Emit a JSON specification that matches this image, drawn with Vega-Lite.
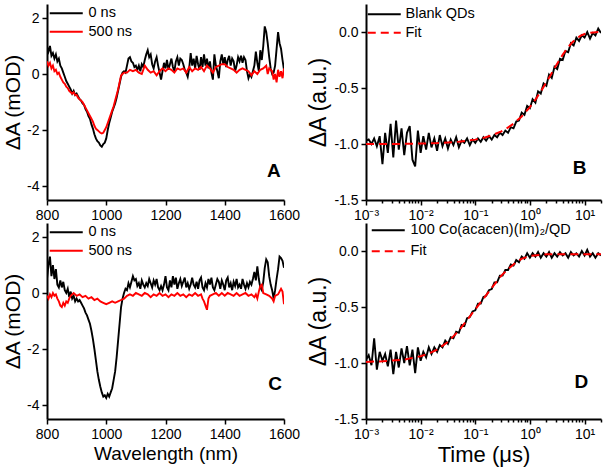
{
"$schema": "https://vega.github.io/schema/vega-lite/v6.json",
"background": "white",
"padding": {"left": 2, "top": 4, "right": 5, "bottom": 5},
"config": {
  "view": {"stroke": null},
  "font": "Liberation Sans",
  "axis": {"domainColor": "black", "domainWidth": 2, "tickColor": "black", "tickWidth": 1.5, "labelColor": "black", "labelFontSize": 14, "labelFont": "Liberation Sans", "titleFont": "Liberation Sans", "titleFontSize": 21, "titleFontWeight": "normal", "titleColor": "black", "grid": false, "labelFlush": false, "labelOverlap": false, "labelPadding": 3, "titlePadding": 3},
  "legend": {"orient": "none", "symbolType": "M-3,0H3", "symbolSize": 121, "symbolStrokeWidth": 2, "labelFontSize": 14.5, "labelFont": "Liberation Sans", "labelColor": "black", "labelOffset": 15, "labelLimit": 300, "rowPadding": 3.5, "padding": 0}
},
"datasets": {
"one": [{}],
"a0": [{"x":800,"y":0.97},{"x":805,"y":0.8},{"x":810,"y":1.0},{"x":815,"y":0.65},{"x":820,"y":0.75},{"x":825,"y":0.55},{"x":830,"y":0.7},{"x":835,"y":0.45},{"x":840,"y":0.55},{"x":845,"y":0.3},{"x":850,"y":0.2},{"x":855,"y":0.05},{"x":860,"y":-0.1},{"x":865,"y":-0.25},{"x":870,"y":-0.35},{"x":875,"y":-0.45},{"x":880,"y":-0.55},{"x":885,"y":-0.7},{"x":890,"y":-0.6},{"x":895,"y":-0.75},{"x":900,"y":-0.7},{"x":905,"y":-0.8},{"x":910,"y":-0.9},{"x":915,"y":-0.95},{"x":920,"y":-1.05},{"x":925,"y":-1.1},{"x":930,"y":-1.25},{"x":935,"y":-1.35},{"x":940,"y":-1.5},{"x":945,"y":-1.6},{"x":950,"y":-1.8},{"x":955,"y":-1.95},{"x":960,"y":-2.15},{"x":965,"y":-2.3},{"x":970,"y":-2.4},{"x":975,"y":-2.45},{"x":980,"y":-2.55},{"x":985,"y":-2.6},{"x":990,"y":-2.5},{"x":995,"y":-2.45},{"x":1000,"y":-2.3},{"x":1005,"y":-2.0},{"x":1010,"y":-1.75},{"x":1015,"y":-1.55},{"x":1020,"y":-1.35},{"x":1025,"y":-1.2},{"x":1030,"y":-1.05},{"x":1035,"y":-0.85},{"x":1040,"y":-0.6},{"x":1045,"y":-0.35},{"x":1050,"y":-0.1},{"x":1055,"y":0.05},{"x":1060,"y":0.1},{"x":1065,"y":0.05},{"x":1070,"y":0.3},{"x":1075,"y":0.55},{"x":1080,"y":0.6},{"x":1085,"y":0.45},{"x":1090,"y":0.4},{"x":1095,"y":0.25},{"x":1100,"y":0.3},{"x":1105,"y":0.15},{"x":1110,"y":0.3},{"x":1115,"y":0.1},{"x":1120,"y":0.35},{"x":1125,"y":0.25},{"x":1130,"y":0.5},{"x":1135,"y":0.7},{"x":1140,"y":0.85},{"x":1145,"y":0.6},{"x":1150,"y":0.7},{"x":1155,"y":0.35},{"x":1160,"y":0.2},{"x":1165,"y":0.45},{"x":1170,"y":0.6},{"x":1175,"y":0.3},{"x":1180,"y":0.05},{"x":1185,"y":-0.2},{"x":1190,"y":0.1},{"x":1195,"y":0.4},{"x":1200,"y":0.2},{"x":1205,"y":0.5},{"x":1210,"y":0.15},{"x":1215,"y":0.35},{"x":1220,"y":0.55},{"x":1225,"y":0.25},{"x":1230,"y":0.1},{"x":1235,"y":0.45},{"x":1240,"y":0.6},{"x":1245,"y":0.3},{"x":1250,"y":0.55},{"x":1255,"y":0.5},{"x":1260,"y":0.35},{"x":1265,"y":0.15},{"x":1270,"y":0.05},{"x":1275,"y":-0.1},{"x":1280,"y":0.2},{"x":1285,"y":0.75},{"x":1290,"y":0.3},{"x":1295,"y":0.55},{"x":1300,"y":0.2},{"x":1305,"y":0.65},{"x":1310,"y":0.35},{"x":1315,"y":0.15},{"x":1320,"y":0.6},{"x":1325,"y":0.25},{"x":1330,"y":0.7},{"x":1335,"y":0.3},{"x":1340,"y":0.55},{"x":1345,"y":0.2},{"x":1350,"y":0.45},{"x":1355,"y":0.05},{"x":1360,"y":-0.2},{"x":1365,"y":0.7},{"x":1370,"y":0.3},{"x":1375,"y":0.1},{"x":1380,"y":-0.15},{"x":1385,"y":0.45},{"x":1390,"y":0.7},{"x":1395,"y":0.35},{"x":1400,"y":0.6},{"x":1405,"y":0.25},{"x":1410,"y":0.5},{"x":1415,"y":0.65},{"x":1420,"y":0.3},{"x":1425,"y":0.55},{"x":1430,"y":0.45},{"x":1435,"y":0.1},{"x":1440,"y":0.3},{"x":1445,"y":0.6},{"x":1450,"y":0.45},{"x":1455,"y":0.65},{"x":1460,"y":0.4},{"x":1465,"y":0.6},{"x":1470,"y":0.5},{"x":1475,"y":0.1},{"x":1480,"y":-0.15},{"x":1485,"y":0.0},{"x":1490,"y":-0.1},{"x":1495,"y":0.1},{"x":1500,"y":0.3},{"x":1505,"y":0.8},{"x":1510,"y":0.4},{"x":1515,"y":0.1},{"x":1520,"y":0.85},{"x":1525,"y":0.5},{"x":1530,"y":1.0},{"x":1535,"y":1.7},{"x":1540,"y":1.5},{"x":1545,"y":1.1},{"x":1550,"y":0.6},{"x":1555,"y":0.2},{"x":1560,"y":0.0},{"x":1565,"y":0.05},{"x":1570,"y":0.3},{"x":1575,"y":0.9},{"x":1580,"y":1.5},{"x":1585,"y":1.1},{"x":1590,"y":0.9},{"x":1595,"y":0.5},{"x":1600,"y":0.15}],
"a5": [{"x":800,"y":0.45},{"x":805,"y":0.3},{"x":810,"y":0.4},{"x":815,"y":0.2},{"x":820,"y":0.3},{"x":825,"y":0.1},{"x":830,"y":0.15},{"x":835,"y":0.0},{"x":840,"y":0.05},{"x":845,"y":-0.1},{"x":850,"y":-0.2},{"x":855,"y":-0.3},{"x":860,"y":-0.35},{"x":865,"y":-0.45},{"x":870,"y":-0.5},{"x":875,"y":-0.6},{"x":880,"y":-0.65},{"x":885,"y":-0.7},{"x":890,"y":-0.65},{"x":895,"y":-0.75},{"x":900,"y":-0.75},{"x":905,"y":-0.85},{"x":910,"y":-0.9},{"x":915,"y":-0.95},{"x":920,"y":-1.0},{"x":925,"y":-1.1},{"x":930,"y":-1.2},{"x":935,"y":-1.3},{"x":940,"y":-1.4},{"x":945,"y":-1.5},{"x":950,"y":-1.6},{"x":955,"y":-1.7},{"x":960,"y":-1.85},{"x":965,"y":-1.95},{"x":970,"y":-2.0},{"x":975,"y":-2.05},{"x":980,"y":-2.1},{"x":985,"y":-2.12},{"x":990,"y":-2.1},{"x":995,"y":-2.0},{"x":1000,"y":-1.9},{"x":1005,"y":-1.75},{"x":1010,"y":-1.6},{"x":1015,"y":-1.45},{"x":1020,"y":-1.3},{"x":1025,"y":-1.15},{"x":1030,"y":-0.95},{"x":1035,"y":-0.75},{"x":1040,"y":-0.55},{"x":1045,"y":-0.3},{"x":1050,"y":-0.05},{"x":1055,"y":0.0},{"x":1060,"y":0.05},{"x":1070,"y":0.05},{"x":1080,"y":0.15},{"x":1090,"y":0.1},{"x":1100,"y":0.15},{"x":1110,"y":0.05},{"x":1120,"y":0.0},{"x":1130,"y":0.3},{"x":1140,"y":0.15},{"x":1150,"y":0.05},{"x":1160,"y":0.1},{"x":1170,"y":-0.05},{"x":1180,"y":0.1},{"x":1190,"y":0.2},{"x":1200,"y":0.1},{"x":1210,"y":0.2},{"x":1220,"y":0.15},{"x":1230,"y":0.05},{"x":1240,"y":0.2},{"x":1250,"y":0.15},{"x":1260,"y":0.2},{"x":1270,"y":0.05},{"x":1280,"y":0.25},{"x":1290,"y":0.1},{"x":1300,"y":0.2},{"x":1310,"y":0.15},{"x":1320,"y":0.25},{"x":1330,"y":0.1},{"x":1340,"y":0.3},{"x":1350,"y":0.2},{"x":1360,"y":0.05},{"x":1370,"y":0.25},{"x":1380,"y":0.3},{"x":1390,"y":0.35},{"x":1400,"y":0.35},{"x":1410,"y":0.25},{"x":1420,"y":0.2},{"x":1430,"y":0.15},{"x":1440,"y":0.05},{"x":1450,"y":0.15},{"x":1460,"y":0.2},{"x":1470,"y":0.15},{"x":1480,"y":0.1},{"x":1490,"y":-0.05},{"x":1500,"y":0.1},{"x":1510,"y":0.0},{"x":1520,"y":0.15},{"x":1530,"y":0.2},{"x":1540,"y":0.3},{"x":1545,"y":0.0},{"x":1550,"y":0.2},{"x":1560,"y":0.1},{"x":1565,"y":-0.2},{"x":1570,"y":0.0},{"x":1575,"y":-0.3},{"x":1580,"y":0.15},{"x":1585,"y":-0.1},{"x":1590,"y":0.1},{"x":1595,"y":-0.15},{"x":1600,"y":0.2}],
"c0": [{"x":800,"y":0.5},{"x":805,"y":1.0},{"x":810,"y":1.3},{"x":815,"y":0.6},{"x":820,"y":1.0},{"x":825,"y":0.5},{"x":830,"y":0.85},{"x":835,"y":0.3},{"x":840,"y":0.2},{"x":845,"y":0.45},{"x":850,"y":0.2},{"x":855,"y":0.4},{"x":860,"y":0.1},{"x":865,"y":0.0},{"x":870,"y":0.15},{"x":875,"y":-0.15},{"x":880,"y":0.05},{"x":885,"y":-0.2},{"x":890,"y":-0.1},{"x":895,"y":-0.3},{"x":900,"y":-0.2},{"x":905,"y":-0.3},{"x":910,"y":-0.25},{"x":915,"y":-0.35},{"x":920,"y":-0.45},{"x":925,"y":-0.55},{"x":930,"y":-0.7},{"x":935,"y":-0.8},{"x":940,"y":-0.95},{"x":945,"y":-1.1},{"x":950,"y":-1.35},{"x":955,"y":-1.65},{"x":960,"y":-2.0},{"x":965,"y":-2.4},{"x":970,"y":-2.8},{"x":975,"y":-3.1},{"x":980,"y":-3.35},{"x":985,"y":-3.55},{"x":990,"y":-3.7},{"x":995,"y":-3.65},{"x":1000,"y":-3.75},{"x":1005,"y":-3.6},{"x":1010,"y":-3.7},{"x":1015,"y":-3.55},{"x":1020,"y":-3.4},{"x":1025,"y":-3.1},{"x":1030,"y":-2.8},{"x":1035,"y":-2.3},{"x":1040,"y":-1.7},{"x":1045,"y":-1.1},{"x":1050,"y":-0.5},{"x":1055,"y":-0.2},{"x":1060,"y":0.0},{"x":1065,"y":0.15},{"x":1070,"y":0.1},{"x":1075,"y":0.35},{"x":1080,"y":0.2},{"x":1085,"y":0.4},{"x":1090,"y":0.6},{"x":1095,"y":0.45},{"x":1100,"y":0.5},{"x":1105,"y":0.25},{"x":1110,"y":0.35},{"x":1115,"y":0.15},{"x":1120,"y":0.45},{"x":1125,"y":0.3},{"x":1130,"y":0.2},{"x":1135,"y":0.35},{"x":1140,"y":0.25},{"x":1145,"y":0.5},{"x":1150,"y":0.35},{"x":1155,"y":0.2},{"x":1160,"y":0.45},{"x":1165,"y":0.3},{"x":1170,"y":0.5},{"x":1175,"y":0.2},{"x":1180,"y":0.1},{"x":1185,"y":0.25},{"x":1190,"y":0.1},{"x":1195,"y":0.3},{"x":1200,"y":0.6},{"x":1205,"y":0.2},{"x":1210,"y":0.1},{"x":1215,"y":0.45},{"x":1220,"y":0.2},{"x":1225,"y":0.6},{"x":1230,"y":0.3},{"x":1235,"y":0.55},{"x":1240,"y":0.15},{"x":1245,"y":0.35},{"x":1250,"y":0.5},{"x":1255,"y":0.25},{"x":1260,"y":0.4},{"x":1265,"y":0.55},{"x":1270,"y":0.2},{"x":1275,"y":0.35},{"x":1280,"y":0.15},{"x":1285,"y":0.3},{"x":1290,"y":0.55},{"x":1295,"y":0.3},{"x":1300,"y":0.2},{"x":1305,"y":0.4},{"x":1310,"y":0.15},{"x":1315,"y":0.45},{"x":1320,"y":0.55},{"x":1325,"y":0.2},{"x":1330,"y":0.1},{"x":1335,"y":0.35},{"x":1340,"y":0.2},{"x":1345,"y":0.5},{"x":1350,"y":0.3},{"x":1355,"y":0.55},{"x":1360,"y":0.2},{"x":1365,"y":0.1},{"x":1370,"y":0.3},{"x":1375,"y":0.5},{"x":1380,"y":0.4},{"x":1385,"y":0.15},{"x":1390,"y":0.45},{"x":1395,"y":0.3},{"x":1400,"y":0.1},{"x":1405,"y":0.45},{"x":1410,"y":0.55},{"x":1415,"y":0.2},{"x":1420,"y":0.35},{"x":1425,"y":0.1},{"x":1430,"y":0.4},{"x":1435,"y":0.25},{"x":1440,"y":0.5},{"x":1445,"y":0.2},{"x":1450,"y":0.3},{"x":1455,"y":0.15},{"x":1460,"y":0.5},{"x":1465,"y":0.3},{"x":1470,"y":0.15},{"x":1475,"y":0.35},{"x":1480,"y":0.2},{"x":1485,"y":0.4},{"x":1490,"y":0.3},{"x":1495,"y":0.5},{"x":1500,"y":0.75},{"x":1505,"y":0.45},{"x":1510,"y":0.95},{"x":1515,"y":0.5},{"x":1520,"y":0.2},{"x":1525,"y":0.1},{"x":1530,"y":0.4},{"x":1535,"y":0.9},{"x":1540,"y":1.2},{"x":1545,"y":1.1},{"x":1550,"y":0.6},{"x":1555,"y":0.3},{"x":1560,"y":0.1},{"x":1565,"y":-0.2},{"x":1570,"y":0.1},{"x":1575,"y":0.5},{"x":1580,"y":0.85},{"x":1585,"y":1.3},{"x":1590,"y":1.25},{"x":1595,"y":1.15},{"x":1600,"y":0.9}],
"c5": [{"x":800,"y":-0.1},{"x":805,"y":-0.2},{"x":810,"y":-0.05},{"x":815,"y":-0.15},{"x":820,"y":0.0},{"x":825,"y":-0.1},{"x":830,"y":-0.05},{"x":835,"y":-0.2},{"x":840,"y":-0.3},{"x":845,"y":-0.45},{"x":850,"y":-0.5},{"x":855,"y":-0.35},{"x":860,"y":-0.45},{"x":865,"y":-0.3},{"x":870,"y":-0.35},{"x":875,"y":-0.2},{"x":880,"y":-0.1},{"x":885,"y":-0.05},{"x":890,"y":0.0},{"x":895,"y":-0.05},{"x":900,"y":-0.1},{"x":910,"y":-0.05},{"x":920,"y":-0.15},{"x":930,"y":-0.1},{"x":940,"y":-0.2},{"x":950,"y":-0.15},{"x":960,"y":-0.25},{"x":970,"y":-0.2},{"x":980,"y":-0.3},{"x":990,"y":-0.35},{"x":1000,"y":-0.4},{"x":1010,"y":-0.35},{"x":1020,"y":-0.3},{"x":1030,"y":-0.35},{"x":1040,"y":-0.3},{"x":1050,"y":-0.25},{"x":1060,"y":-0.2},{"x":1070,"y":-0.1},{"x":1080,"y":-0.05},{"x":1090,"y":-0.1},{"x":1100,"y":0.0},{"x":1110,"y":-0.05},{"x":1120,"y":-0.1},{"x":1130,"y":0.0},{"x":1140,"y":-0.05},{"x":1150,"y":-0.15},{"x":1160,"y":-0.05},{"x":1170,"y":-0.1},{"x":1180,"y":0.0},{"x":1190,"y":-0.1},{"x":1200,"y":-0.05},{"x":1210,"y":-0.15},{"x":1220,"y":-0.05},{"x":1230,"y":-0.1},{"x":1240,"y":0.0},{"x":1250,"y":-0.1},{"x":1260,"y":-0.05},{"x":1270,"y":-0.15},{"x":1280,"y":-0.05},{"x":1290,"y":-0.1},{"x":1300,"y":0.0},{"x":1310,"y":-0.1},{"x":1320,"y":-0.05},{"x":1325,"y":-0.2},{"x":1330,"y":-0.3},{"x":1335,"y":-0.45},{"x":1340,"y":-0.6},{"x":1345,"y":-0.2},{"x":1350,"y":-0.1},{"x":1360,"y":-0.05},{"x":1370,"y":0.0},{"x":1380,"y":-0.1},{"x":1390,"y":0.0},{"x":1400,"y":-0.1},{"x":1410,"y":0.0},{"x":1420,"y":-0.05},{"x":1430,"y":-0.1},{"x":1440,"y":0.0},{"x":1450,"y":-0.1},{"x":1460,"y":-0.05},{"x":1470,"y":0.0},{"x":1480,"y":-0.1},{"x":1490,"y":-0.05},{"x":1500,"y":-0.15},{"x":1505,"y":-0.05},{"x":1510,"y":-0.2},{"x":1515,"y":0.05},{"x":1520,"y":0.25},{"x":1525,"y":0.3},{"x":1530,"y":0.0},{"x":1540,"y":-0.05},{"x":1550,"y":-0.1},{"x":1560,"y":-0.2},{"x":1565,"y":-0.3},{"x":1570,"y":-0.1},{"x":1580,"y":-0.05},{"x":1590,"y":0.15},{"x":1595,"y":0.05},{"x":1600,"y":-0.4}],
"bd": [{"x":0.001,"y":-0.97},{"x":0.00112,"y":-0.96},{"x":0.00126,"y":-1.0},{"x":0.00141,"y":-0.95},{"x":0.00158,"y":-1.02},{"x":0.00178,"y":-0.93},{"x":0.002,"y":-1.18},{"x":0.00224,"y":-0.9},{"x":0.00251,"y":-1.08},{"x":0.00282,"y":-0.82},{"x":0.00316,"y":-1.12},{"x":0.00355,"y":-0.79},{"x":0.00398,"y":-1.05},{"x":0.00447,"y":-0.86},{"x":0.00501,"y":-1.1},{"x":0.00562,"y":-0.9},{"x":0.00631,"y":-0.84},{"x":0.00708,"y":-1.14},{"x":0.00794,"y":-1.2},{"x":0.00891,"y":-0.88},{"x":0.01,"y":-1.08},{"x":0.0112,"y":-0.93},{"x":0.0126,"y":-1.05},{"x":0.0141,"y":-0.9},{"x":0.0158,"y":-1.03},{"x":0.0178,"y":-0.95},{"x":0.02,"y":-1.06},{"x":0.0224,"y":-0.92},{"x":0.0251,"y":-1.02},{"x":0.0282,"y":-0.95},{"x":0.0316,"y":-1.04},{"x":0.0355,"y":-0.96},{"x":0.0398,"y":-1.01},{"x":0.0447,"y":-0.94},{"x":0.0501,"y":-1.03},{"x":0.0562,"y":-0.97},{"x":0.0631,"y":-0.99},{"x":0.0708,"y":-0.95},{"x":0.0794,"y":-1.01},{"x":0.0891,"y":-0.96},{"x":0.1,"y":-0.99},{"x":0.112,"y":-0.95},{"x":0.126,"y":-0.98},{"x":0.141,"y":-0.94},{"x":0.158,"y":-0.97},{"x":0.178,"y":-0.93},{"x":0.2,"y":-0.96},{"x":0.224,"y":-0.92},{"x":0.251,"y":-0.94},{"x":0.282,"y":-0.9},{"x":0.316,"y":-0.92},{"x":0.355,"y":-0.88},{"x":0.398,"y":-0.9},{"x":0.447,"y":-0.85},{"x":0.501,"y":-0.86},{"x":0.562,"y":-0.8},{"x":0.631,"y":-0.79},{"x":0.708,"y":-0.72},{"x":0.794,"y":-0.74},{"x":0.891,"y":-0.66},{"x":1,"y":-0.68},{"x":1.12,"y":-0.6},{"x":1.26,"y":-0.63},{"x":1.41,"y":-0.53},{"x":1.58,"y":-0.55},{"x":1.78,"y":-0.46},{"x":2,"y":-0.48},{"x":2.24,"y":-0.38},{"x":2.51,"y":-0.41},{"x":2.82,"y":-0.31},{"x":3.16,"y":-0.33},{"x":3.55,"y":-0.24},{"x":3.98,"y":-0.25},{"x":4.47,"y":-0.17},{"x":5.01,"y":-0.18},{"x":5.62,"y":-0.1},{"x":6.31,"y":-0.12},{"x":7.08,"y":-0.05},{"x":7.94,"y":-0.08},{"x":8.91,"y":-0.03},{"x":10,"y":-0.05},{"x":11.2,"y":0.0},{"x":12.6,"y":-0.06},{"x":14.1,"y":-0.01},{"x":15.8,"y":-0.03},{"x":17.8,"y":0.03},{"x":20,"y":-0.01}],
"bf": [{"x":0.001,"y":-1.0},{"x":0.003,"y":-1.0},{"x":0.01,"y":-0.996},{"x":0.02,"y":-0.992},{"x":0.05,"y":-0.98},{"x":0.1,"y":-0.961},{"x":0.15,"y":-0.942},{"x":0.2,"y":-0.923},{"x":0.3,"y":-0.887},{"x":0.4,"y":-0.852},{"x":0.5,"y":-0.819},{"x":0.7,"y":-0.756},{"x":1,"y":-0.67},{"x":1.3,"y":-0.595},{"x":1.6,"y":-0.527},{"x":2,"y":-0.449},{"x":2.5,"y":-0.368},{"x":3,"y":-0.301},{"x":4,"y":-0.202},{"x":5,"y":-0.135},{"x":6,"y":-0.091},{"x":7,"y":-0.061},{"x":8.5,"y":-0.033},{"x":10,"y":-0.018},{"x":13,"y":-0.006},{"x":16,"y":-0.002},{"x":20,"y":0.0}],
"dd": [{"x":0.001,"y":-0.97},{"x":0.00112,"y":-0.93},{"x":0.00126,"y":-1.02},{"x":0.00141,"y":-0.78},{"x":0.00158,"y":-1.06},{"x":0.00178,"y":-0.9},{"x":0.002,"y":-0.98},{"x":0.00224,"y":-0.92},{"x":0.00251,"y":-1.03},{"x":0.00282,"y":-0.88},{"x":0.00316,"y":-1.1},{"x":0.00355,"y":-0.9},{"x":0.00398,"y":-1.04},{"x":0.00447,"y":-0.87},{"x":0.00501,"y":-1.0},{"x":0.00562,"y":-0.85},{"x":0.00631,"y":-1.02},{"x":0.00708,"y":-0.88},{"x":0.00794,"y":-1.09},{"x":0.00891,"y":-0.86},{"x":0.01,"y":-0.98},{"x":0.0112,"y":-0.9},{"x":0.0126,"y":-0.95},{"x":0.0141,"y":-0.86},{"x":0.0158,"y":-0.92},{"x":0.0178,"y":-0.86},{"x":0.02,"y":-0.9},{"x":0.0224,"y":-0.84},{"x":0.0251,"y":-0.86},{"x":0.0282,"y":-0.8},{"x":0.0316,"y":-0.83},{"x":0.0355,"y":-0.77},{"x":0.0398,"y":-0.78},{"x":0.0447,"y":-0.72},{"x":0.0501,"y":-0.73},{"x":0.0562,"y":-0.66},{"x":0.0631,"y":-0.67},{"x":0.0708,"y":-0.6},{"x":0.0794,"y":-0.59},{"x":0.0891,"y":-0.54},{"x":0.1,"y":-0.53},{"x":0.112,"y":-0.47},{"x":0.126,"y":-0.47},{"x":0.141,"y":-0.41},{"x":0.158,"y":-0.4},{"x":0.178,"y":-0.35},{"x":0.2,"y":-0.34},{"x":0.224,"y":-0.28},{"x":0.251,"y":-0.28},{"x":0.282,"y":-0.22},{"x":0.316,"y":-0.22},{"x":0.355,"y":-0.17},{"x":0.398,"y":-0.17},{"x":0.447,"y":-0.12},{"x":0.501,"y":-0.13},{"x":0.562,"y":-0.08},{"x":0.631,"y":-0.1},{"x":0.708,"y":-0.05},{"x":0.794,"y":-0.07},{"x":0.891,"y":-0.02},{"x":1,"y":-0.06},{"x":1.12,"y":-0.02},{"x":1.26,"y":-0.05},{"x":1.41,"y":-0.01},{"x":1.58,"y":-0.06},{"x":1.78,"y":-0.02},{"x":2,"y":-0.05},{"x":2.24,"y":-0.01},{"x":2.51,"y":-0.06},{"x":2.82,"y":-0.02},{"x":3.16,"y":-0.05},{"x":3.55,"y":-0.01},{"x":3.98,"y":-0.04},{"x":4.47,"y":-0.02},{"x":5.01,"y":-0.06},{"x":5.62,"y":-0.01},{"x":6.31,"y":-0.04},{"x":7.08,"y":-0.02},{"x":7.94,"y":-0.05},{"x":8.91,"y":0.0},{"x":10,"y":-0.04},{"x":11.2,"y":0.01},{"x":12.6,"y":-0.05},{"x":14.1,"y":-0.02},{"x":15.8,"y":-0.06},{"x":17.8,"y":-0.02},{"x":20,"y":-0.04}],
"df": [{"x":0.001,"y":-0.99},{"x":0.002,"y":-0.985},{"x":0.005,"y":-0.97},{"x":0.01,"y":-0.94},{"x":0.015,"y":-0.91},{"x":0.02,"y":-0.88},{"x":0.03,"y":-0.82},{"x":0.04,"y":-0.76},{"x":0.05,"y":-0.71},{"x":0.07,"y":-0.62},{"x":0.1,"y":-0.52},{"x":0.15,"y":-0.41},{"x":0.2,"y":-0.33},{"x":0.3,"y":-0.22},{"x":0.4,"y":-0.16},{"x":0.5,"y":-0.12},{"x":0.7,"y":-0.07},{"x":1,"y":-0.045},{"x":1.5,"y":-0.035},{"x":2,"y":-0.03},{"x":5,"y":-0.03},{"x":20,"y":-0.03}]
},
"columns": 2,
"spacing": {"row": 23, "column": 82},
"bounds": "flush",
"resolve": {"scale": {"color": "independent", "x": "independent", "y": "independent"}},
"concat": [
{
 "width": 237, "height": 196,
 "layer": [
  {"data": {"name": "a0"}, "mark": {"type": "line", "strokeWidth": 1.9, "clip": true},
   "encoding": {
    "x": {"field": "x", "type": "quantitative", "scale": {"domain": [800, 1600], "nice": false, "zero": false},
      "axis": {"title": null, "values": [800,900,1000,1100,1200,1300,1400,1500,1600], "labelExpr": "datum.value % 200 == 0 ? format(datum.value, 'd') : ''", "tickSize": {"condition": {"test": "datum.value % 200 != 0", "value": 3}, "value": 5}}},
    "y": {"field": "y", "type": "quantitative", "scale": {"domain": [-4.5, 2.5], "nice": false, "zero": false},
      "axis": {"title": "ΔA (mOD)", "values": [-4,-3,-2,-1,0,1,2], "labelExpr": "datum.value % 2 == 0 ? replace(format(datum.value, 'd'), '−', '-') : ''", "tickSize": {"condition": {"test": "datum.value % 2 != 0", "value": 3}, "value": 5}}},
    "color": {"datum": "0 ns", "scale": {"domain": ["0 ns", "500 ns"], "range": ["#000000", "#ff0000"]}, "legend": {"title": null, "legendX": 12, "legendY": 2}}
   }},
  {"data": {"name": "a5"}, "mark": {"type": "line", "strokeWidth": 1.9, "clip": true},
   "encoding": {"x": {"field": "x", "type": "quantitative"}, "y": {"field": "y", "type": "quantitative"}, "color": {"datum": "500 ns"}}},
  {"data": {"name": "one"}, "mark": {"type": "text", "fontSize": 19, "fontWeight": "bold", "font": "Liberation Sans", "align": "center", "baseline": "middle", "color": "black"},
   "encoding": {"x": {"datum": 1566, "type": "quantitative"}, "y": {"datum": -3.46, "type": "quantitative"}, "text": {"value": "A"}}}
 ]
},
{
 "width": 235, "height": 196,
 "layer": [
  {"data": {"name": "bd"}, "mark": {"type": "line", "strokeWidth": 1.9, "clip": true},
   "encoding": {
    "x": {"field": "x", "type": "quantitative", "scale": {"type": "log", "domain": [0.001, 20], "nice": false},
      "axis": {"title": null, "values": [0.001,0.002,0.003,0.004,0.005,0.006,0.007,0.008,0.009,0.01,0.02,0.03,0.04,0.05,0.06,0.07,0.08,0.09,0.1,0.2,0.3,0.4,0.5,0.6,0.7,0.8,0.9,1,2,3,4,5,6,7,8,9,10,20], "labelExpr": "datum.value == 0.001 ? '10⁻³' : datum.value == 0.01 ? '10⁻²' : datum.value == 0.1 ? '10⁻¹' : datum.value == 1 ? '10⁰' : datum.value == 10 ? '10¹' : ''", "tickSize": {"condition": {"test": "indexof([0.001,0.01,0.1,1,10], datum.value) < 0", "value": 3}, "value": 5}}},
    "y": {"field": "y", "type": "quantitative", "scale": {"domain": [-1.5, 0.25], "nice": false, "zero": false},
      "axis": {"title": "ΔA (a.u.)", "titleFontSize": 23, "values": [-1.5,-1.25,-1,-0.75,-0.5,-0.25,0,0.25], "labelExpr": "indexof([-1.5,-1,-0.5,0], datum.value) >= 0 ? replace(format(datum.value, '.1f'), '−', '-') : ''", "tickSize": {"condition": {"test": "indexof([-1.5,-1,-0.5,0], datum.value) < 0", "value": 3}, "value": 5}}},
    "color": {"datum": "Blank QDs", "scale": {"domain": ["Blank QDs", "Fit"], "range": ["#000000", "#ff0000"]}, "legend": {"title": null, "legendX": 11, "legendY": 3, "labelOffset": 14, "encode": {"symbols": {"update": {"strokeDash": {"signal": "datum.value === 'Fit' ? [8,5] : [1,0]"}}}}}}
   }},
  {"data": {"name": "bf"}, "mark": {"type": "line", "strokeWidth": 2, "strokeDash": [8, 5], "clip": true},
   "encoding": {"x": {"field": "x", "type": "quantitative"}, "y": {"field": "y", "type": "quantitative"}, "color": {"datum": "Fit"}}},
  {"data": {"name": "one"}, "mark": {"type": "text", "fontSize": 19, "fontWeight": "bold", "font": "Liberation Sans", "align": "center", "baseline": "middle", "color": "black"},
   "encoding": {"x": {"datum": 8.1, "type": "quantitative"}, "y": {"datum": -1.21, "type": "quantitative"}, "text": {"value": "B"}}}
 ]
},
{
 "width": 237, "height": 196,
 "layer": [
  {"data": {"name": "c0"}, "mark": {"type": "line", "strokeWidth": 1.9, "clip": true},
   "encoding": {
    "x": {"field": "x", "type": "quantitative", "scale": {"domain": [800, 1600], "nice": false, "zero": false},
      "axis": {"title": "Wavelength (nm)", "titleFontSize": 19, "values": [800,900,1000,1100,1200,1300,1400,1500,1600], "labelExpr": "datum.value % 200 == 0 ? format(datum.value, 'd') : ''", "tickSize": {"condition": {"test": "datum.value % 200 != 0", "value": 3}, "value": 5}}},
    "y": {"field": "y", "type": "quantitative", "scale": {"domain": [-4.5, 2.5], "nice": false, "zero": false},
      "axis": {"title": "ΔA (mOD)", "values": [-4,-3,-2,-1,0,1,2], "labelExpr": "datum.value % 2 == 0 ? replace(format(datum.value, 'd'), '−', '-') : ''", "tickSize": {"condition": {"test": "datum.value % 2 != 0", "value": 3}, "value": 5}}},
    "color": {"datum": "0 ns", "scale": {"domain": ["0 ns", "500 ns"], "range": ["#000000", "#ff0000"]}, "legend": {"title": null, "legendX": 12, "legendY": 2}}
   }},
  {"data": {"name": "c5"}, "mark": {"type": "line", "strokeWidth": 1.9, "clip": true},
   "encoding": {"x": {"field": "x", "type": "quantitative"}, "y": {"field": "y", "type": "quantitative"}, "color": {"datum": "500 ns"}}},
  {"data": {"name": "one"}, "mark": {"type": "text", "fontSize": 19, "fontWeight": "bold", "font": "Liberation Sans", "align": "center", "baseline": "middle", "color": "black"},
   "encoding": {"x": {"datum": 1570, "type": "quantitative"}, "y": {"datum": -3.25, "type": "quantitative"}, "text": {"value": "C"}}}
 ]
},
{
 "width": 235, "height": 196,
 "layer": [
  {"data": {"name": "dd"}, "mark": {"type": "line", "strokeWidth": 1.9, "clip": true},
   "encoding": {
    "x": {"field": "x", "type": "quantitative", "scale": {"type": "log", "domain": [0.001, 20], "nice": false},
      "axis": {"title": "Time (μs)", "titleFontSize": 22, "values": [0.001,0.002,0.003,0.004,0.005,0.006,0.007,0.008,0.009,0.01,0.02,0.03,0.04,0.05,0.06,0.07,0.08,0.09,0.1,0.2,0.3,0.4,0.5,0.6,0.7,0.8,0.9,1,2,3,4,5,6,7,8,9,10,20], "labelExpr": "datum.value == 0.001 ? '10⁻³' : datum.value == 0.01 ? '10⁻²' : datum.value == 0.1 ? '10⁻¹' : datum.value == 1 ? '10⁰' : datum.value == 10 ? '10¹' : ''", "tickSize": {"condition": {"test": "indexof([0.001,0.01,0.1,1,10], datum.value) < 0", "value": 3}, "value": 5}}},
    "y": {"field": "y", "type": "quantitative", "scale": {"domain": [-1.5, 0.25], "nice": false, "zero": false},
      "axis": {"title": "ΔA (a.u.)", "titleFontSize": 23, "values": [-1.5,-1.25,-1,-0.75,-0.5,-0.25,0,0.25], "labelExpr": "indexof([-1.5,-1,-0.5,0], datum.value) >= 0 ? replace(format(datum.value, '.1f'), '−', '-') : ''", "tickSize": {"condition": {"test": "indexof([-1.5,-1,-0.5,0], datum.value) < 0", "value": 3}, "value": 5}}},
    "color": {"datum": "100 Co(acacen)(Im)₂/QD", "scale": {"domain": ["100 Co(acacen)(Im)₂/QD", "Fit"], "range": ["#000000", "#ff0000"]}, "legend": {"title": null, "legendX": 15, "legendY": 0, "labelOffset": 15, "rowPadding": 6, "encode": {"symbols": {"update": {"strokeDash": {"signal": "datum.value === 'Fit' ? [8,5] : [1,0]"}}}}}}
   }},
  {"data": {"name": "df"}, "mark": {"type": "line", "strokeWidth": 2, "strokeDash": [8, 5], "clip": true},
   "encoding": {"x": {"field": "x", "type": "quantitative"}, "y": {"field": "y", "type": "quantitative"}, "color": {"datum": "Fit"}}},
  {"data": {"name": "one"}, "mark": {"type": "text", "fontSize": 19, "fontWeight": "bold", "font": "Liberation Sans", "align": "center", "baseline": "middle", "color": "black"},
   "encoding": {"x": {"datum": 8.7, "type": "quantitative"}, "y": {"datum": -1.17, "type": "quantitative"}, "text": {"value": "D"}}}
 ]
}
]
}
